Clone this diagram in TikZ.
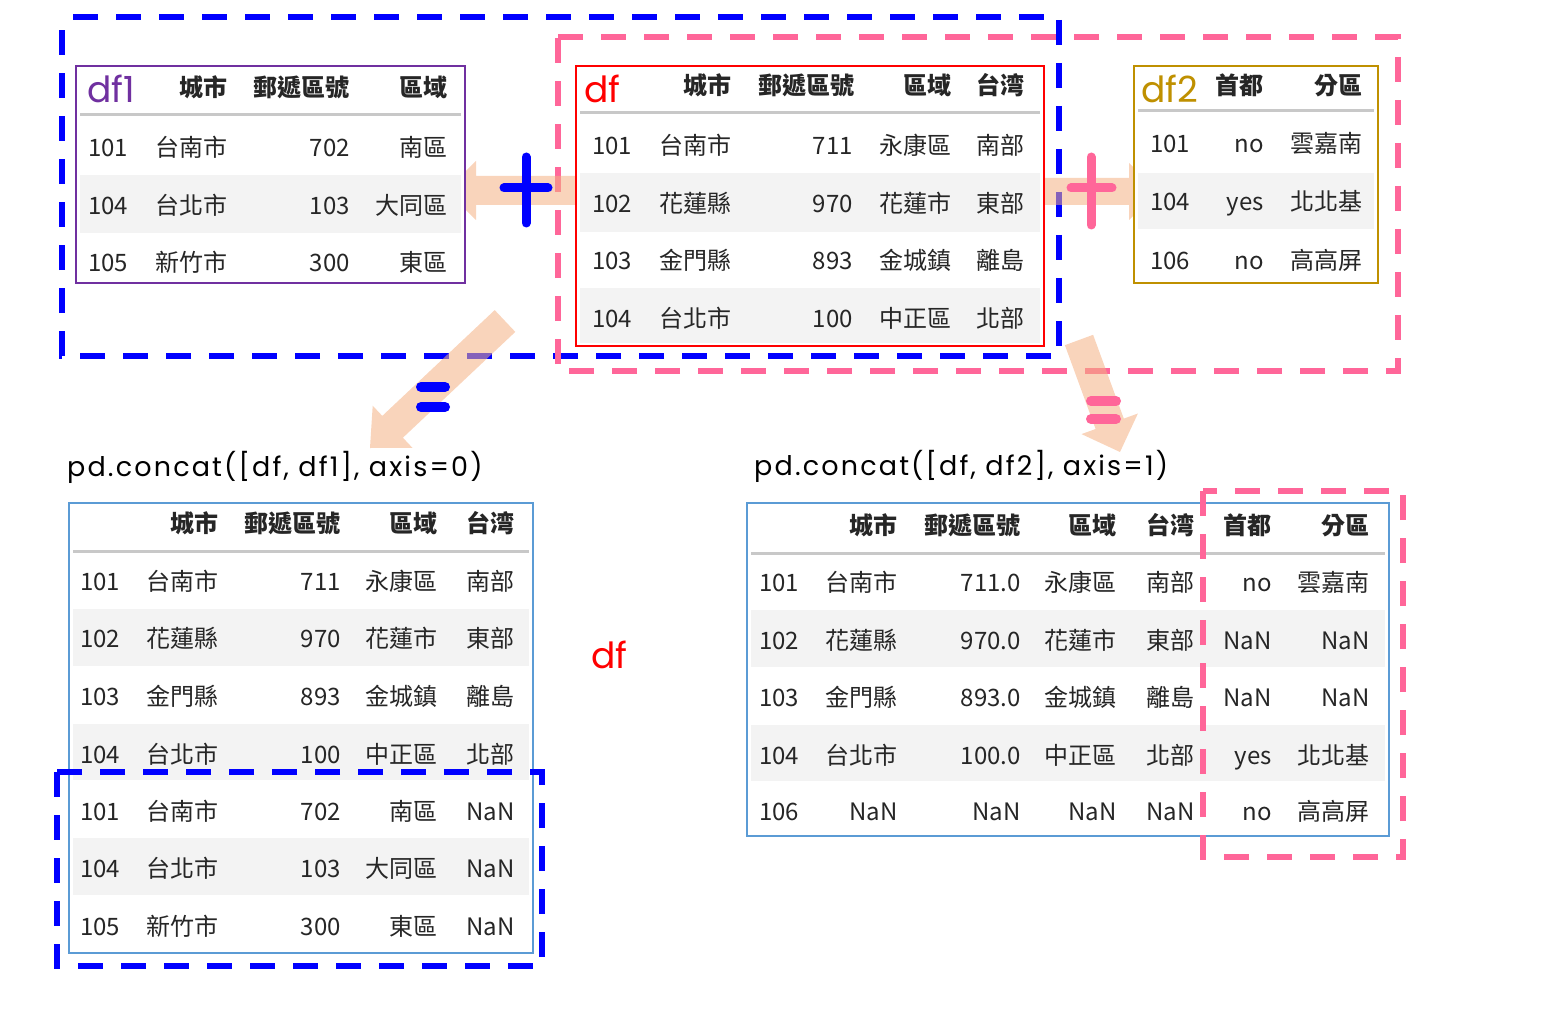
\documentclass[tikz,border=0pt]{standalone}
\usepackage{fontspec}
\newfontfamily\cjk{Noto Sans CJK TC}
\newfontfamily\hand{Poppins}
\newfontfamily\handwide[LetterSpace=8]{Poppins}
\definecolor{txt}{HTML}{262626}
\definecolor{dfpurple}{HTML}{7030A0}
\definecolor{dfred}{HTML}{FF0000}
\definecolor{dfgold}{HTML}{BF9000}
\definecolor{tblue}{HTML}{5B9BD5}
\definecolor{sepgray}{HTML}{C8C8C8}
\definecolor{shade}{HTML}{F3F3F3}
\definecolor{pinkd}{HTML}{FF6699}
\definecolor{bluedd}{HTML}{0000FF}
\definecolor{peach}{HTML}{F4B183}
\begin{document}
\begin{tikzpicture}[x=1pt,y=-1pt,
  cR/.style={anchor=base east,inner sep=0pt,font=\cjk\fontsize{24}{24}\selectfont,text=txt},
  cL/.style={anchor=base west,inner sep=0pt,font=\cjk\fontsize{24}{24}\selectfont,text=txt},
  hd/.style={anchor=base east,inner sep=0pt,font=\cjk\bfseries\fontsize{24}{24}\selectfont,text=txt},
  lab/.style={anchor=base west,inner sep=0pt,font=\hand\fontsize{36}{36}\selectfont},
  code/.style={anchor=base west,inner sep=0pt,font=\handwide\fontsize{27}{27}\selectfont,text=black},
  tbl/.style={line width=2pt,fill=white},
  sepline/.style={draw=sepgray,line width=3pt},
  shd/.style={fill=shade},
  bluebox/.style={draw=bluedd,line width=5.5pt,dash pattern=on 25pt off 18pt},
  pinkbox/.style={draw=pinkd,line width=5.5pt,dash pattern=on 25pt off 18pt},
  blockarrow/.style={fill=peach,fill opacity=0.55},
  bluepen/.style={draw=bluedd,line width=9pt,line cap=round},
  pinkpen/.style={draw=pinkd,line width=9pt,line cap=round},
]
\useasboundingbox (0,0) rectangle (1564,1027);

% ---------- top dashed groups ----------
\draw[bluebox] (73,17) -- (1059,17) -- (1059,356) -- (62,356) -- (62,25);
\draw[pinkbox] (558,37) -- (1398,37) -- (1398,371) -- (558,371) -- cycle;

% ---------- block arrows ----------
\fill[blockarrow] (580,176) -- (476,176) -- (476,161) -- (446,190.5) -- (476,220) -- (476,205) -- (580,205) -- cycle;
\fill[blockarrow] (1040,178) -- (1129,178) -- (1129,163) -- (1159,191.5) -- (1129,220) -- (1129,205) -- (1040,205) -- cycle;
\fill[blockarrow] (494.7,310.1) -- (515.3,331.9) -- (402.9,437.7) -- (412.5,447.9) -- (370,448) -- (372.7,405.7) -- (382.3,415.9) -- cycle;
\fill[blockarrow] (1064.9,345.2) -- (1093.1,334.8) -- (1123.8,418.6) -- (1137.9,413.5) -- (1120,452) -- (1081.5,434.1) -- (1095.6,429.0) -- cycle;

% ---------- df1 ----------
\path[tbl,draw=dfpurple] (76,66) rectangle (465,283);
\fill[shd] (80,175) rectangle (461,233);
\draw[sepline] (80,115) -- (461,115);
\node[lab,text=dfpurple] (lab1) at (87,103) {df1};
\node[hd] (a01) at (228,96.5) {城市};
\node[hd] (a02) at (350,96.5) {郵遞區號};
\node[hd] (a03) at (448,96.5) {區域};
\foreach \y/\a/\b/\c/\d [count=\i] in {147/101/台南市/702/南區,205/104/台北市/103/大同區,262/105/新竹市/300/東區}{
  \node[cL] (a\i0) at (88,{\y+9.5}) {\a};
  \node[cR] (a\i1) at (228,{\y+9.5}) {\b};
  \node[cR] (a\i2) at (350,{\y+9.5}) {\c};
  \node[cR] (a\i3) at (448,{\y+9.5}) {\d};
}

% ---------- df ----------
\path[tbl,draw=dfred] (576,66) rectangle (1044,346);
\fill[shd] (580,173) rectangle (1040,232);
\fill[shd] (580,288) rectangle (1040,343);
\draw[sepline] (580,113) -- (1040,113);
\node[lab,text=dfred] (lab0) at (584,103) {df};
\node[hd] (b01) at (732,94.5) {城市};
\node[hd] (b02) at (855,94.5) {郵遞區號};
\node[hd] (b03) at (952,94.5) {區域};
\node[hd] (b04) at (1025,94.5) {台湾};
\foreach \y/\a/\b/\c/\d/\e [count=\i] in {145/101/台南市/711/永康區/南部,203/102/花蓮縣/970/花蓮市/東部,260/103/金門縣/893/金城鎮/離島,318/104/台北市/100/中正區/北部}{
  \node[cL] (b\i0) at (592,{\y+9.5}) {\a};
  \node[cR] (b\i1) at (732,{\y+9.5}) {\b};
  \node[cR] (b\i2) at (853,{\y+9.5}) {\c};
  \node[cR] (b\i3) at (952,{\y+9.5}) {\d};
  \node[cR] (b\i4) at (1025,{\y+9.5}) {\e};
}

% ---------- df2 ----------
\path[tbl,draw=dfgold] (1134,66) rectangle (1378,283);
\fill[shd] (1138,173) rectangle (1374,229);
\draw[sepline] (1138,111) -- (1374,111);
\node[lab,text=dfgold] (lab2) at (1141,103) {df2};
\node[hd] (c01) at (1264,94.5) {首都};
\node[hd] (c02) at (1363,94.5) {分區};
\foreach \y/\a/\b/\c [count=\i] in {143/101/no/雲嘉南,201/104/yes/北北基,260/106/no/高高屏}{
  \node[cL] (c\i0) at (1150,{\y+9.5}) {\a};
  \node[cR] (c\i1) at (1264,{\y+9.5}) {\b};
  \node[cR] (c\i2) at (1363,{\y+9.5}) {\c};
}

% ---------- plus / equals ----------
\draw[bluepen] (526,157) -- (526,223);
\draw[bluepen] (504,188) -- (548,188);
\draw[pinkpen] (1091,157) -- (1091,225);
\draw[pinkpen] (1071,188) -- (1112,188);
\draw[bluepen,line width=10pt] (421,387) -- (445,387);
\draw[bluepen,line width=10pt] (421,407) -- (445,407);
\draw[pinkpen,line width=10pt] (1091,401) -- (1116,401);
\draw[pinkpen,line width=10pt] (1091,419) -- (1116,419);

% ---------- code labels ----------
\node[code] (codeA) at (67,476) {pd.concat([df, df1], axis=0)};
\node[code] (codeB) at (754,475) {pd.concat([df, df2], axis=1)};
\node[lab,text=dfred] (labdf) at (591,668) {df};

% ---------- result axis=0 ----------
\path[tbl,draw=tblue] (69,503) rectangle (533,953);
\fill[shd] (73,609) rectangle (529,666);
\fill[shd] (73,724) rectangle (529,780);
\fill[shd] (73,838) rectangle (529,895);
\draw[sepline] (73,551) -- (529,551);
\node[hd] (d01) at (219,532.5) {城市};
\node[hd] (d02) at (341,532.5) {郵遞區號};
\node[hd] (d03) at (438,532.5) {區域};
\node[hd] (d04) at (515,532.5) {台湾};
\foreach \y/\a/\b/\c/\d/\e [count=\i] in {581/101/台南市/711/永康區/南部,638/102/花蓮縣/970/花蓮市/東部,696/103/金門縣/893/金城鎮/離島,754/104/台北市/100/中正區/北部,811/101/台南市/702/南區/NaN,868/104/台北市/103/大同區/NaN,926/105/新竹市/300/東區/NaN}{
  \node[cL] (d\i0) at (80,{\y+9.5}) {\a};
  \node[cR] (d\i1) at (219,{\y+9.5}) {\b};
  \node[cR] (d\i2) at (341,{\y+9.5}) {\c};
  \node[cR] (d\i3) at (438,{\y+9.5}) {\d};
  \node[cR] (d\i4) at (515,{\y+9.5}) {\e};
}
\draw[bluebox] (57,772) rectangle (542,966);

% ---------- result axis=1 ----------
\path[tbl,draw=tblue] (747,503) rectangle (1389,836);
\fill[shd] (751,610) rectangle (1385,667);
\fill[shd] (751,725) rectangle (1385,781);
\draw[sepline] (751,553) -- (1385,553);
\node[hd] (e01) at (898,534.5) {城市};
\node[hd] (e02) at (1021,534.5) {郵遞區號};
\node[hd] (e03) at (1117,534.5) {區域};
\node[hd] (e04) at (1195,534.5) {台湾};
\node[hd] (e05) at (1272,534.5) {首都};
\node[hd] (e06) at (1370,534.5) {分區};
\foreach \y/\a/\b/\c/\d/\e/\f/\g [count=\i] in {582/101/台南市/711.0/永康區/南部/no/雲嘉南,640/102/花蓮縣/970.0/花蓮市/東部/NaN/NaN,697/103/金門縣/893.0/金城鎮/離島/NaN/NaN,755/104/台北市/100.0/中正區/北部/yes/北北基,811/106/NaN/NaN/NaN/NaN/no/高高屏}{
  \node[cL] (e\i0) at (759,{\y+9.5}) {\a};
  \node[cR] (e\i1) at (898,{\y+9.5}) {\b};
  \node[cR] (e\i2) at (1021,{\y+9.5}) {\c};
  \node[cR] (e\i3) at (1117,{\y+9.5}) {\d};
  \node[cR] (e\i4) at (1195,{\y+9.5}) {\e};
  \node[cR] (e\i5) at (1272,{\y+9.5}) {\f};
  \node[cR] (e\i6) at (1370,{\y+9.5}) {\g};
}
\draw[pinkbox] (1203,491) rectangle (1403,857);
\end{tikzpicture}
\end{document}
